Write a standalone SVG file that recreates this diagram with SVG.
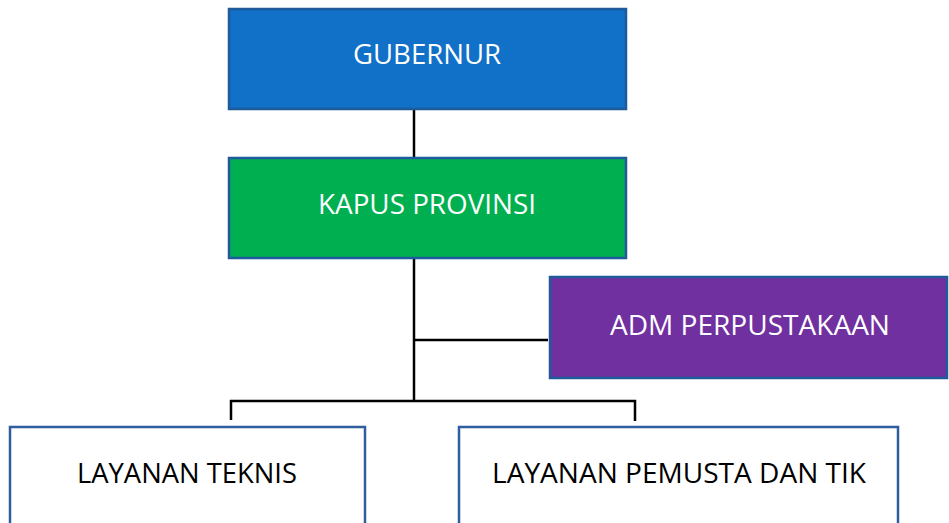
<svg xmlns="http://www.w3.org/2000/svg" width="949" height="523" viewBox="0 0 949 523">
<style>
.box{stroke-width:2.5}
.t{font-family:"Open Sans","Liberation Sans",sans-serif;font-size:28px;text-anchor:middle}
.w{fill:#ffffff}
.k{fill:#000000}
.c{stroke:#000;stroke-width:2.5;fill:none}
</style>
<rect width="949" height="523" fill="#ffffff"/>
<g id="connectors">
<line class="c" x1="414" y1="110" x2="414" y2="158"/>
<line class="c" x1="414" y1="259" x2="414" y2="401"/>
<line class="c" x1="414" y1="340" x2="548" y2="340"/>
<polyline class="c" points="231,420 231,401 635,401 635,421"/>
</g>
<g id="gubernur">
<rect class="box" x="229" y="9" width="397" height="100" fill="#1170C8" stroke="#1F5A9A"/>
<text class="t w" x="427" y="64" textLength="148" lengthAdjust="spacingAndGlyphs">GUBERNUR</text>
</g>
<g id="kapus">
<rect class="box" x="229" y="158" width="397" height="100" fill="#00B050" stroke="#1F5A9A"/>
<text class="t w" x="427" y="214" textLength="218" lengthAdjust="spacingAndGlyphs">KAPUS PROVINSI</text>
</g>
<g id="adm">
<rect class="box" x="550" y="277" width="397" height="101" fill="#7030A0" stroke="#1F5A9A"/>
<text class="t w" x="750" y="335" textLength="280" lengthAdjust="spacingAndGlyphs">ADM PERPUSTAKAAN</text>
</g>
<g id="layanan-teknis">
<rect class="box" x="10" y="427" width="355" height="110" fill="#ffffff" stroke="#2E5E9E"/>
<text class="t k" x="187" y="483" textLength="220" lengthAdjust="spacingAndGlyphs">LAYANAN TEKNIS</text>
</g>
<g id="layanan-pemusta">
<rect class="box" x="459" y="427" width="439" height="110" fill="#ffffff" stroke="#2E5E9E"/>
<text class="t k" x="679" y="483" textLength="374" lengthAdjust="spacingAndGlyphs">LAYANAN PEMUSTA DAN TIK</text>
</g>
</svg>
